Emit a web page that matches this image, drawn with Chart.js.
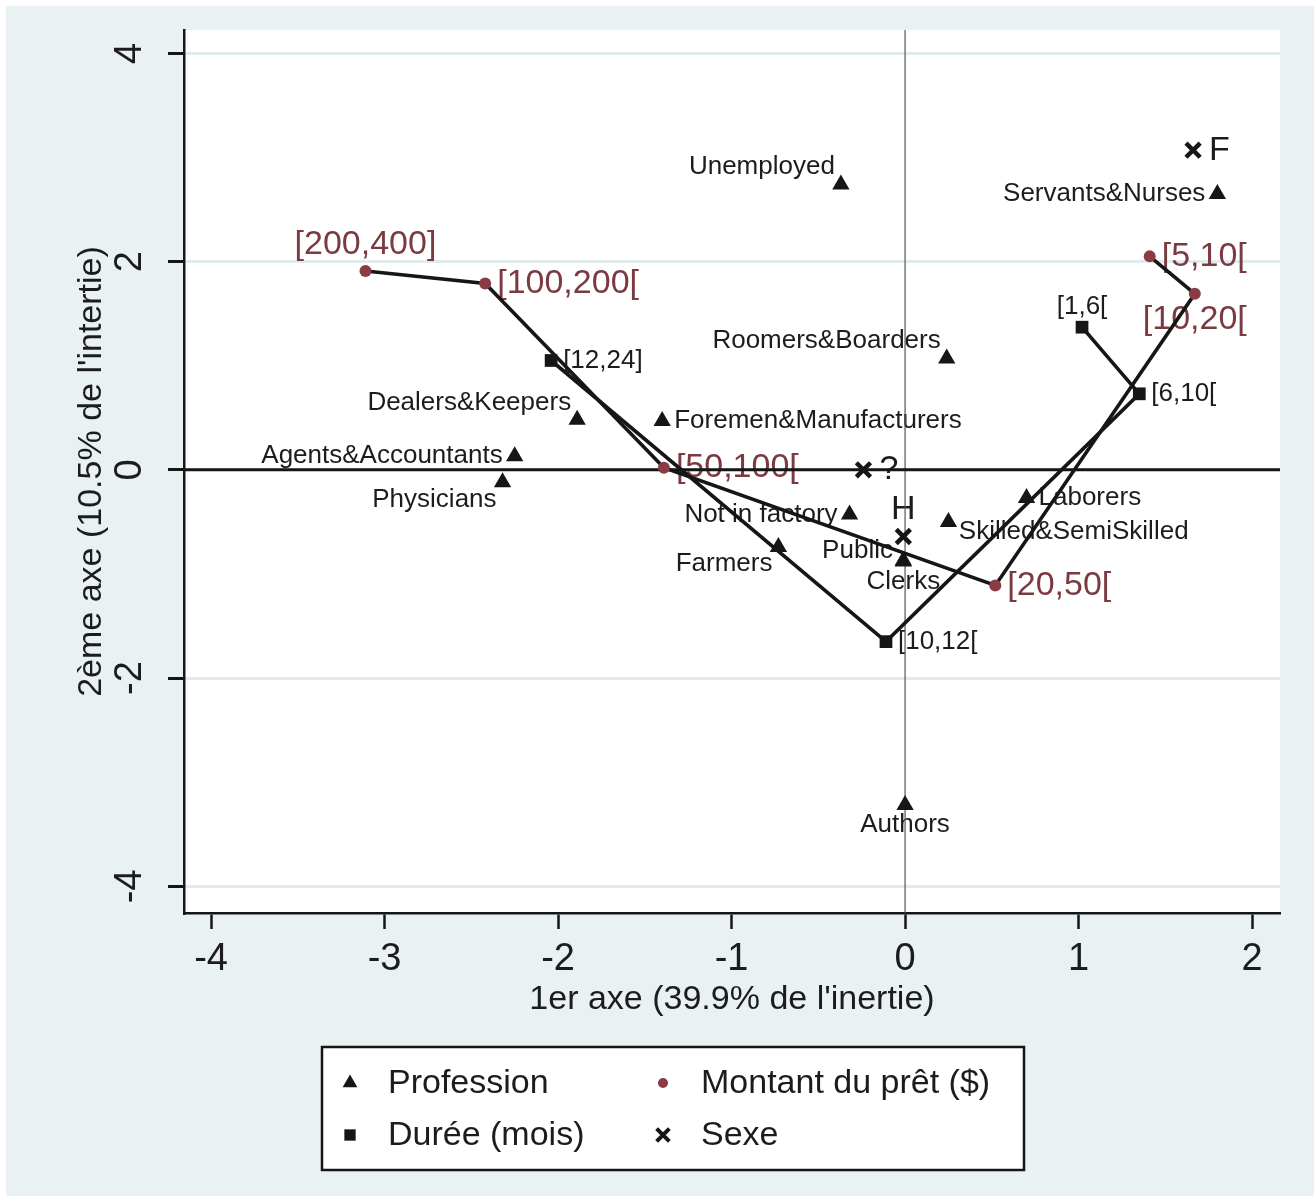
<!DOCTYPE html>
<html>
<head>
<meta charset="utf-8">
<script src="https://cdn.jsdelivr.net/npm/chart.js@4.4.1/dist/chart.umd.min.js"></script>
<style>
  html, body { margin: 0; padding: 0; background: #fff; }
  canvas { display: block; }
</style>
</head>
<body>
<canvas id="afc" width="1314" height="1196"></canvas>
<script>
// Profession
const profNoms = ["Unemployed", "Servants&Nurses", "Roomers&Boarders", "Dealers&Keepers",
  "Foremen&Manufacturers", "Agents&Accountants", "Physicians", "Not in factory", "Laborers",
  "Skilled&SemiSkilled", "Farmers", "Public", "Clerks", "Authors"];
const profX = [-0.37, 1.80, 0.24, -1.89, -1.40, -2.25, -2.32, -0.32, 0.70, 0.25, -0.73, -0.01, -0.01, 0.00];
const profY = [2.74, 2.65, 1.07, 0.48, 0.47, 0.13, -0.12, -0.43, -0.27, -0.50, -0.74, -0.87, -0.88, -3.22];

// Montant du prêt ($)
const montantNoms = ["[200,400]", "[100,200[", "[50,100[", "[20,50[", "[10,20[", "[5,10["];
const montantX = [-3.11, -2.42, -1.39, 0.52, 1.67, 1.41];
const montantY = [1.91, 1.79, 0.02, -1.11, 1.69, 2.05];

// Durée (mois)
const dureeNoms = ["[12,24]", "[10,12[", "[6,10[", "[1,6["];
const dureeX = [-2.04, -0.11, 1.35, 1.02];
const dureeY = [1.05, -1.65, 0.73, 1.37];

// Sexe
const sexeNoms = ["F", "?", "H"];
const sexeX = [1.66, -0.24, -0.01];
const sexeY = [3.07, 0.00, -0.64];

const xTicks = [-4, -3, -2, -1, 0, 1, 2];
const yTicks = [-4, -2, 0, 2, 4];

// position des étiquettes, façon horloge Stata
const profPos = [11, 9, 11, 11, 3, 9, 7, 9, 3, 4, 7, 10, 6, 6];
const montantPos = [12, 3, 3, 3, 6, 3];
const dureePos = [3, 3, 3, 12];
const sexePos = [3, 3, 12];

const FONT = "'Liberation Sans', Arial, Helvetica, sans-serif";
const ROUGE = "#8a3b44";
const ROUGE_TXT = "#7a3a40";
const NOIR = "#161616";

const pts = (xs, ys) => xs.map((x, i) => ({ x: x, y: ys[i] }));

function drawLabels(chart, idx, noms, pos, size, color, gx, gy) {
  const ctx = chart.ctx;
  const meta = chart.getDatasetMeta(idx);
  ctx.save();
  ctx.font = size + "px " + FONT;
  ctx.fillStyle = color;
  ctx.textBaseline = "middle";
  meta.data.forEach((el, i) => {
    const a = (90 - pos[i] * 30) * Math.PI / 180;
    const dx = Math.cos(a), dy = -Math.sin(a);
    ctx.textAlign = dx > 0.3 ? "left" : dx < -0.3 ? "right" : "center";
    ctx.fillText(noms[i], el.x + dx * gx, el.y + dy * gy);
  });
  ctx.restore();
}

// fond, étiquettes, axes zéro, titres, légende
const decor = {
  id: "decor",
  beforeDraw(chart) {
    const { ctx, chartArea: a, width, height } = chart;
    ctx.save();
    ctx.fillStyle = "#ffffff";
    ctx.fillRect(0, 0, width, height);
    ctx.fillStyle = "#e9f1f3";
    ctx.fillRect(6, 6, width - 6, height - 6);
    ctx.fillStyle = "#ffffff";
    ctx.fillRect(a.left, a.top, a.right - a.left, a.bottom - a.top);
    ctx.restore();
  },
  beforeDatasetsDraw(chart) {
    const { ctx, chartArea: a, scales } = chart;
    drawLabels(chart, 0, profNoms, profPos, 26, "#1c1c1c", 12, 20);
    drawLabels(chart, 1, montantNoms, montantPos, 34, ROUGE_TXT, 12, 26);
    drawLabels(chart, 2, dureeNoms, dureePos, 26, "#1c1c1c", 12, 20);
    drawLabels(chart, 3, sexeNoms, sexePos, 34, "#1c1c1c", 16, 27);

    const x0 = scales.x.getPixelForValue(0);
    const y0 = scales.y.getPixelForValue(0);
    ctx.save();
    ctx.strokeStyle = "#555";
    ctx.lineWidth = 1.2;
    ctx.beginPath();
    ctx.moveTo(x0, a.top);
    ctx.lineTo(x0, a.bottom);
    ctx.stroke();
    ctx.strokeStyle = NOIR;
    ctx.lineWidth = 3;
    ctx.beginPath();
    ctx.moveTo(a.left, y0);
    ctx.lineTo(a.right, y0);
    ctx.stroke();
    ctx.restore();
  },
  afterDraw(chart) {
    const { ctx, chartArea: a, scales } = chart;
    ctx.save();
    ctx.fillStyle = "#1c1c1c";
    ctx.textAlign = "center";
    ctx.textBaseline = "middle";

    // étiquettes de l'axe vertical (tournées)
    ctx.font = "38px " + FONT;
    yTicks.forEach(v => {
      const y = scales.y.getPixelForValue(v);
      ctx.save();
      ctx.translate(131, y);
      ctx.rotate(-Math.PI / 2);
      ctx.fillText(String(v), 0, 0);
      ctx.restore();
    });

    // titres des axes
    ctx.font = "34px " + FONT;
    ctx.fillText("1er axe (39.9% de l'inertie)", (a.left + a.right) / 2, 1000);
    ctx.save();
    ctx.translate(92, (a.top + a.bottom) / 2);
    ctx.rotate(-Math.PI / 2);
    ctx.fillText("2ème axe (10.5% de l'intertie)", 0, 0);
    ctx.restore();

    // légende
    ctx.fillStyle = "#fff";
    ctx.fillRect(322, 1047, 702, 123);
    ctx.strokeStyle = NOIR;
    ctx.lineWidth = 2.5;
    ctx.strokeRect(322, 1047, 702, 123);

    const items = [
      { t: "Profession", x: 350, y: 1083, s: "triangle", r: 8.5, c: NOIR },
      { t: "Montant du prêt ($)", x: 663, y: 1083, s: "circle", r: 5, c: ROUGE },
      { t: "Durée (mois)", x: 350, y: 1135, s: "rect", r: 8, c: NOIR },
      { t: "Sexe", x: 663, y: 1135, s: "crossRot", r: 9, c: NOIR }
    ];
    ctx.font = "34px " + FONT;
    ctx.textAlign = "left";
    items.forEach(it => {
      ctx.fillStyle = it.c;
      ctx.strokeStyle = it.c;
      ctx.lineWidth = 4;
      Chart.helpers.drawPoint(ctx, { pointStyle: it.s, radius: it.r, rotation: 0,
        borderWidth: it.s === "crossRot" ? 4 : 0 }, it.x, it.y);
      ctx.fillStyle = "#1c1c1c";
      ctx.fillText(it.t, it.x + 38, it.y + 1);
    });
    ctx.restore();
  }
};

new Chart(document.getElementById("afc"), {
  type: "scatter",
  data: {
    datasets: [
      {
        label: "Profession",
        data: pts(profX, profY),
        showLine: false,
        pointStyle: "triangle",
        pointRadius: 10,
        pointBackgroundColor: NOIR,
        pointBorderWidth: 0,
        order: 1
      },
      {
        label: "Montant du prêt ($)",
        data: pts(montantX, montantY),
        showLine: true,
        borderColor: NOIR,
        borderWidth: 3.6,
        pointStyle: "circle",
        pointRadius: 6,
        pointBackgroundColor: ROUGE,
        pointBorderColor: ROUGE,
        pointBorderWidth: 0,
        order: 2
      },
      {
        label: "Durée (mois)",
        data: pts(dureeX, dureeY),
        showLine: true,
        borderColor: NOIR,
        borderWidth: 3.6,
        pointStyle: "rect",
        pointRadius: 9,
        pointBackgroundColor: NOIR,
        pointBorderWidth: 0,
        order: 3
      },
      {
        label: "Sexe",
        data: pts(sexeX, sexeY),
        showLine: false,
        pointStyle: "crossRot",
        pointRadius: 10,
        pointBorderColor: NOIR,
        pointBorderWidth: 4.5,
        order: 0
      }
    ]
  },
  options: {
    responsive: false,
    maintainAspectRatio: false,
    animation: false,
    layout: { padding: { top: 30, right: 34, left: 0, bottom: 0 } },
    plugins: { legend: { display: false }, tooltip: { enabled: false } },
    scales: {
      x: {
        type: "linear",
        min: -4.156,
        max: 2.161,
        afterBuildTicks: s => { s.ticks = xTicks.map(v => ({ value: v })); },
        afterFit: s => { s.height = 283; },
        grid: { drawOnChartArea: false, drawTicks: true, tickLength: 16, tickColor: NOIR, tickWidth: 2.5 },
        border: { color: NOIR, width: 2.5 },
        ticks: { font: { family: FONT, size: 38 }, color: "#1c1c1c", padding: 8, maxRotation: 0, autoSkip: false }
      },
      y: {
        type: "linear",
        min: -4.256,
        max: 4.224,
        afterBuildTicks: s => { s.ticks = yTicks.map(v => ({ value: v })); },
        afterFit: s => { s.width = 184; },
        grid: { color: "#e0ebee", lineWidth: 3, drawTicks: true, tickLength: 16, tickColor: NOIR, tickWidth: 3 },
        border: { color: NOIR, width: 2.5 },
        ticks: { display: false }
      }
    }
  },
  plugins: [decor]
});
</script>
</body>
</html>
